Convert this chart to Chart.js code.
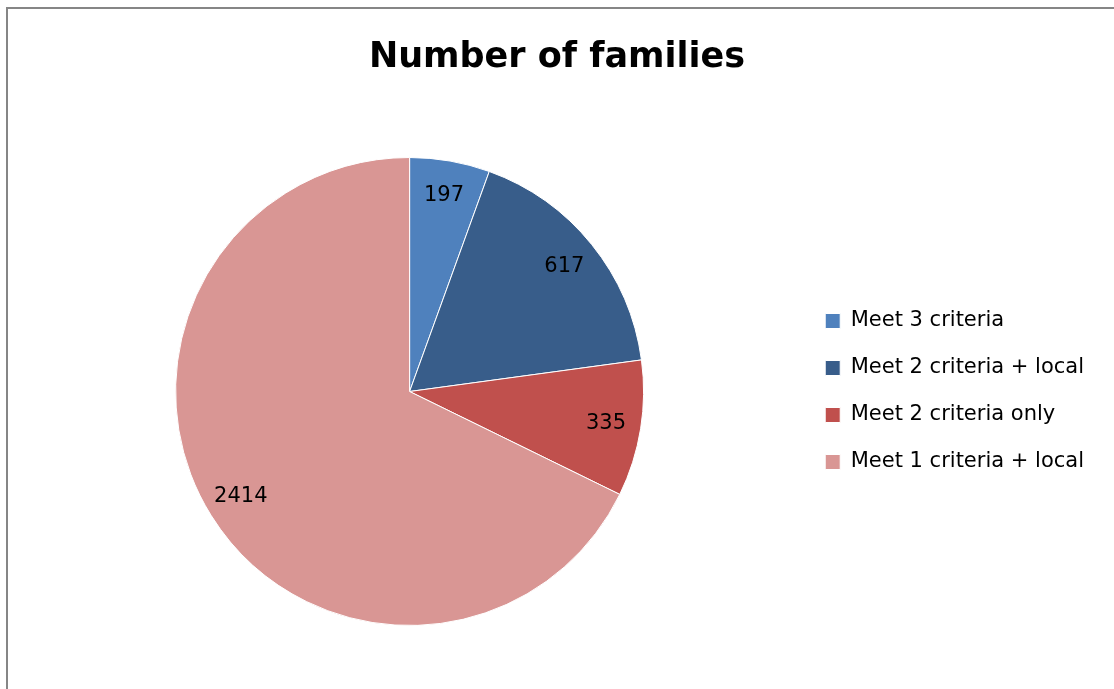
<!DOCTYPE html>
<html>
<head>
<meta charset="utf-8">
<script src="https://cdn.jsdelivr.net/npm/chart.js@4/dist/chart.umd.min.js"></script>
<style>
  html, body { margin: 0; padding: 0; background: #fff; overflow: hidden; }
  #frame { position: absolute; left: 6px; top: 7px; width: 1130px; height: 700px; border: 2px solid #868686; box-sizing: border-box; }
  #chartFamilias { position: absolute; left: 0; top: 0; }
</style>
</head>
<body>
<div id="frame"></div>
<canvas id="chartFamilias" width="1114" height="689"></canvas>
<script>
// valores
const categorias = ['Meet 3 criteria', 'Meet 2 criteria + local', 'Meet 2 criteria only', 'Meet 1 criteria + local'];
const familias = [197, 617, 335, 2414];
const cores = ['#4f81bd', '#385d8a', '#c0504d', '#d99694'];

const fonte = '"DejaVu Sans", Verdana, sans-serif';

// rótulos dentro das fatias
const rotulosFatias = {
  id: 'rotulosFatias',
  afterDatasetsDraw(chart) {
    const { ctx } = chart;
    const meta = chart.getDatasetMeta(0);
    ctx.save();
    ctx.font = '21px ' + fonte;
    ctx.fillStyle = '#000';
    ctx.textAlign = 'center';
    ctx.textBaseline = 'middle';
    meta.data.forEach((arc, i) => {
      const p = arc.getProps(['x', 'y', 'startAngle', 'endAngle', 'outerRadius']);
      const meio = (p.startAngle + p.endAngle) / 2;
      const r = p.outerRadius * 0.85;
      ctx.fillText(String(familias[i]), p.x + Math.cos(meio) * r, p.y + Math.sin(meio) * r);
    });
    ctx.restore();
  },
};

const ctx = document.getElementById('chartFamilias');
window._familiasChart = new Chart(ctx, {
  type: 'pie',
  data: {
    labels: categorias,
    datasets: [{
      data: familias,
      backgroundColor: cores,
      borderColor: '#ffffff',
      borderWidth: 1,
      hoverOffset: 0,
    }],
  },
  options: {
    responsive: false,
    animation: false,
    layout: { padding: { left: 20, right: 20, top: 0, bottom: 63 } },
    plugins: {
      title: {
        display: true,
        text: 'Number of families',
        color: '#000',
        font: { family: fonte, size: 35, weight: 'bold' },
        padding: { top: 37, bottom: 78 },
      },
      legend: {
        position: 'right',
        fullSize: false,
        labels: {
          color: '#000',
          boxWidth: 15,
          boxHeight: 15,
          padding: 26,
          font: { family: fonte, size: 21 },
        },
      },
      tooltip: { enabled: false },
    },
  },
  plugins: [rotulosFatias],
});
</script>
</body>
</html>
